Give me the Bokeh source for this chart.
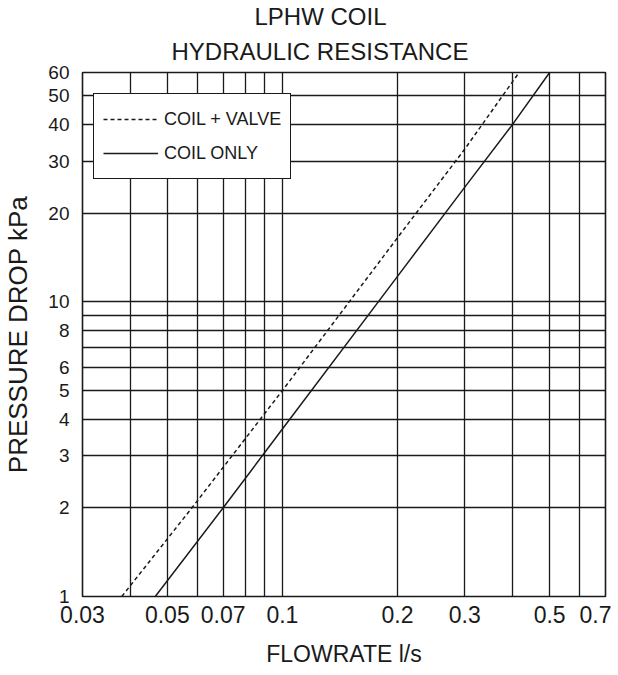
from bokeh.plotting import figure
from bokeh.models import Range1d, FixedTicker, Legend, LegendItem, Title
from bokeh.embed import file_html
from bokeh.resources import INLINE

# ---- data ----
valve_flow = [0.038, 0.058, 0.1, 0.2, 0.3, 0.416]
valve_kpa = [1.0, 2.0, 5.0, 16.5, 33.0, 60.0]

coil_flow = [0.0465, 0.07, 0.1, 0.2, 0.3, 0.4, 0.5]
coil_kpa = [1.0, 2.0, 3.7, 12.2, 24.5, 40.0, 60.0]

x_tick_vals = [0.03, 0.05, 0.07, 0.1, 0.2, 0.3, 0.5, 0.7]
x_tick_text = ["0.03", "0.05", "0.07", "0.1", "0.2", "0.3", "0.5", "0.7"]
x_grid_vals = [0.04, 0.05, 0.06, 0.07, 0.08, 0.09, 0.1, 0.2, 0.3, 0.4, 0.5, 0.6]

y_tick_vals = [1, 2, 3, 4, 5, 6, 8, 10, 20, 30, 40, 50, 60]
y_grid_vals = [2, 3, 4, 5, 6, 7, 8, 9, 10, 20, 30, 40, 50]

title_lines = ["LPHW COIL", "HYDRAULIC RESISTANCE"]

FONT = "Liberation Sans"
INK = "#1a1a1a"

p = figure(frame_width=523, frame_height=524, x_axis_type="log", y_axis_type="log",
           x_range=Range1d(0.03, 0.7), y_range=Range1d(1, 60),
           output_backend="svg", toolbar_location=None,
           min_border_left=81, min_border_right=6, min_border_top=72, min_border_bottom=79)

# titles: the plot title is the top line; the added Title sits next to the frame
p.title.text = title_lines[0]
p.title.align = "left"
p.title.offset = 172
p.title.text_font = FONT
p.title.text_font_size = "24px"
p.title.text_font_style = "normal"
p.title.text_color = INK
p.title.standoff = -5
t2 = Title(text=title_lines[1], align="left", offset=89, text_font=FONT,
           text_font_size="24px", text_font_style="normal", text_color=INK, standoff=16)
p.add_layout(t2, "above")

p.outline_line_color = INK
p.outline_line_width = 1.6
p.outline_line_alpha = 1.0
p.background_fill_color = "white"
p.border_fill_color = "white"

# axes
xa = p.xaxis[0]
xa.ticker = FixedTicker(ticks=x_tick_vals)
xa.major_label_overrides = {v: t for v, t in zip(x_tick_vals, x_tick_text)}
ya = p.yaxis[0]
ya.ticker = FixedTicker(ticks=y_tick_vals)
ya.major_label_overrides = {v: str(v) for v in y_tick_vals}

for ax in (xa, ya):
    ax.axis_line_color = None
    ax.major_tick_line_color = None
    ax.minor_tick_line_color = None
    ax.major_tick_out = 0
    ax.major_tick_in = 0
    ax.minor_tick_out = 0
    ax.minor_tick_in = 0
    ax.major_label_text_font = FONT
    ax.major_label_text_color = INK
    ax.axis_label_text_font = FONT
    ax.axis_label_text_font_style = "normal"
    ax.axis_label_text_color = INK

xa.axis_label = "FLOWRATE l/s"
xa.major_label_text_font_size = "23px"
xa.axis_label_text_font_size = "23px"
xa.major_label_standoff = 9
xa.axis_label_standoff = 15

ya.axis_label = "PRESSURE DROP kPa"
ya.major_label_text_font_size = "19px"
ya.axis_label_text_font_size = "26px"
ya.major_label_standoff = 13
ya.axis_label_standoff = 12

# grid
p.xgrid.ticker = FixedTicker(ticks=x_grid_vals)
p.ygrid.ticker = FixedTicker(ticks=y_grid_vals)
for g in (p.xgrid, p.ygrid):
    g.grid_line_color = INK
    g.grid_line_width = 1.3
    g.grid_line_alpha = 1.0
p.xgrid.minor_grid_line_color = None
p.ygrid.minor_grid_line_color = None

# lines
r_valve = p.line(valve_flow, valve_kpa, line_color=INK, line_width=1.5, line_dash="4 3")
r_coil = p.line(coil_flow, coil_kpa, line_color=INK, line_width=1.5)

legend = Legend(items=[LegendItem(label="COIL + VALVE", renderers=[r_valve]),
                       LegendItem(label="COIL ONLY", renderers=[r_coil])],
                location=(11, 417))
legend.label_text_font = FONT
legend.label_text_font_size = "18px"
legend.label_text_color = INK
legend.glyph_width = 55
legend.glyph_height = 32
legend.label_height = 32
legend.label_standoff = 6
legend.spacing = 2
legend.padding = 9
legend.margin = 0
legend.border_line_color = INK
legend.border_line_width = 1.6
legend.border_line_alpha = 1.0
legend.background_fill_color = "white"
legend.background_fill_alpha = 1.0
p.add_layout(legend, "center")

open("out.html", "w").write(file_html(p, INLINE))
